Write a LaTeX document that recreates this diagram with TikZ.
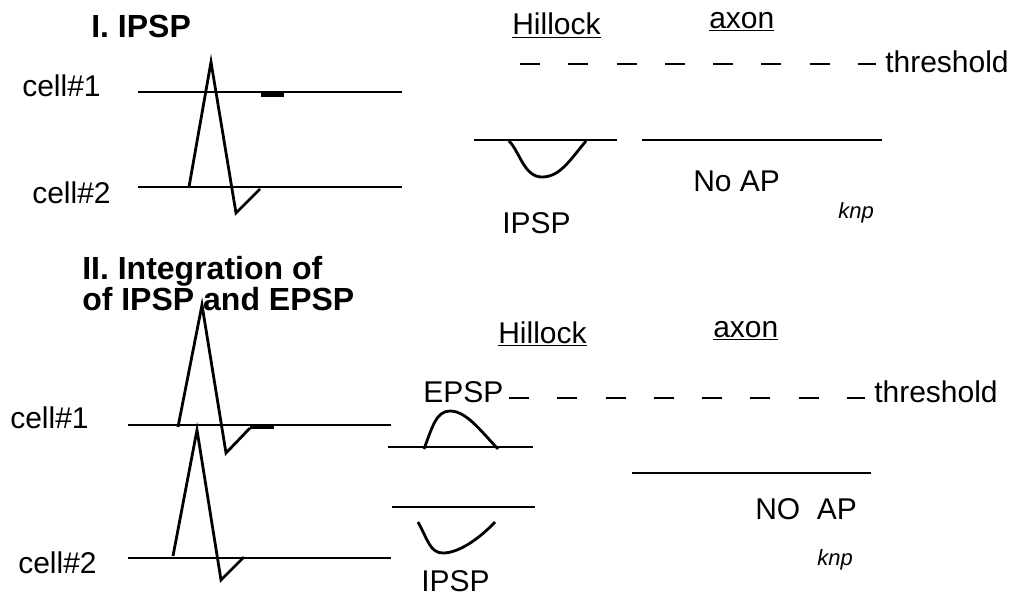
\documentclass[tikz,border=0pt]{standalone}
\usepackage{fontspec}
\setmainfont{Liberation Sans}
\begin{document}
\begin{tikzpicture}[x=0.75pt,y=-0.75pt,
  trace/.style={line width=2.1pt,line join=miter},
  bar/.style={line width=3pt},
  thresh/.style={line width=2.1pt,dash pattern=on 15pt off 21.2pt},
  lbl/.style={anchor=base west,inner sep=0pt,font=\fontsize{22.5}{26}\selectfont},
  ttl/.style={anchor=base west,inner sep=0pt,font=\fontsize{24}{23}\selectfont\bfseries,align=left},
  sig/.style={anchor=base west,inner sep=0pt,font=\fontsize{16.5}{19}\selectfont\itshape}]
\useasboundingbox (0,0) rectangle (1018,596);
% ---------- Section I ----------
\node[ttl] (t1) at (91,37) {I. IPSP};
\node[lbl] (c11) at (22,96) {cell\#1};
\node[lbl] (c12) at (32,203) {cell\#2};
\draw[trace] (138,92) -- (402,92);
\draw[bar] (261,95) -- (284,95);
\draw[trace] (138,187) -- (402,187);
\draw[trace] (189,187) -- (211,62) -- (236,213) -- (260,189);
\node[lbl] (h1) at (512,35) {\underline{Hillock}};
\node[lbl] (a1) at (709,28) {\underline{axon}};
\draw[thresh] (520,64) -- (876,64);
\node[lbl] (th1) at (885,72) {threshold};
\draw[trace] (474,140) -- (617,140);
\draw[trace] (642,140) -- (882,140);
\draw[trace] (509,141) .. controls (520,152) and (524,177) .. (542,177)
  .. controls (560,177) and (570,160) .. (586,141);
\node[lbl] (np1) at (693,191) {No AP};
\node[lbl] (ip1) at (502,233) {IPSP};
\node[sig] (k1) at (838,218) {knp};
% ---------- Section II ----------
\node[ttl] (t2) at (82,310) {II. Integration of\\of IPSP and EPSP};
\node[lbl] (h2) at (498,343) {\underline{Hillock}};
\node[lbl] (a2) at (713,337) {\underline{axon}};
\node[lbl] (ep) at (423,402) {EPSP};
\draw[thresh] (509,398) -- (865,398);
\node[lbl] (th2) at (874,402) {threshold};
\node[lbl] (c21) at (10,428) {cell\#1};
\node[lbl] (c22) at (18,573) {cell\#2};
\draw[trace] (128,425) -- (391,425);
\draw[trace] (178,427) -- (202,305) -- (226,453) -- (250,428);
\draw[bar] (250,427) -- (274,427);
\draw[trace] (128,558) -- (391,558);
\draw[trace] (173,556) -- (197,430) -- (221,580) -- (244,557);
\draw[trace] (388,447) -- (533,447);
\draw[trace] (424,449) .. controls (432,428) and (436,411) .. (450,411)
  .. controls (466,411) and (480,430) .. (498,449);
\draw[trace] (392,507) -- (535,507);
\draw[trace] (418,522) .. controls (428,540) and (430,553) .. (443,553)
  .. controls (458,553) and (478,540) .. (495,522);
\draw[trace] (632,473) -- (871,473);
\node[lbl] (np2) at (755,519) {NO~~AP};
\node[sig] (k2) at (817,565) {knp};
\node[lbl] (ip2) at (421,591) {IPSP};
\end{tikzpicture}
\end{document}
